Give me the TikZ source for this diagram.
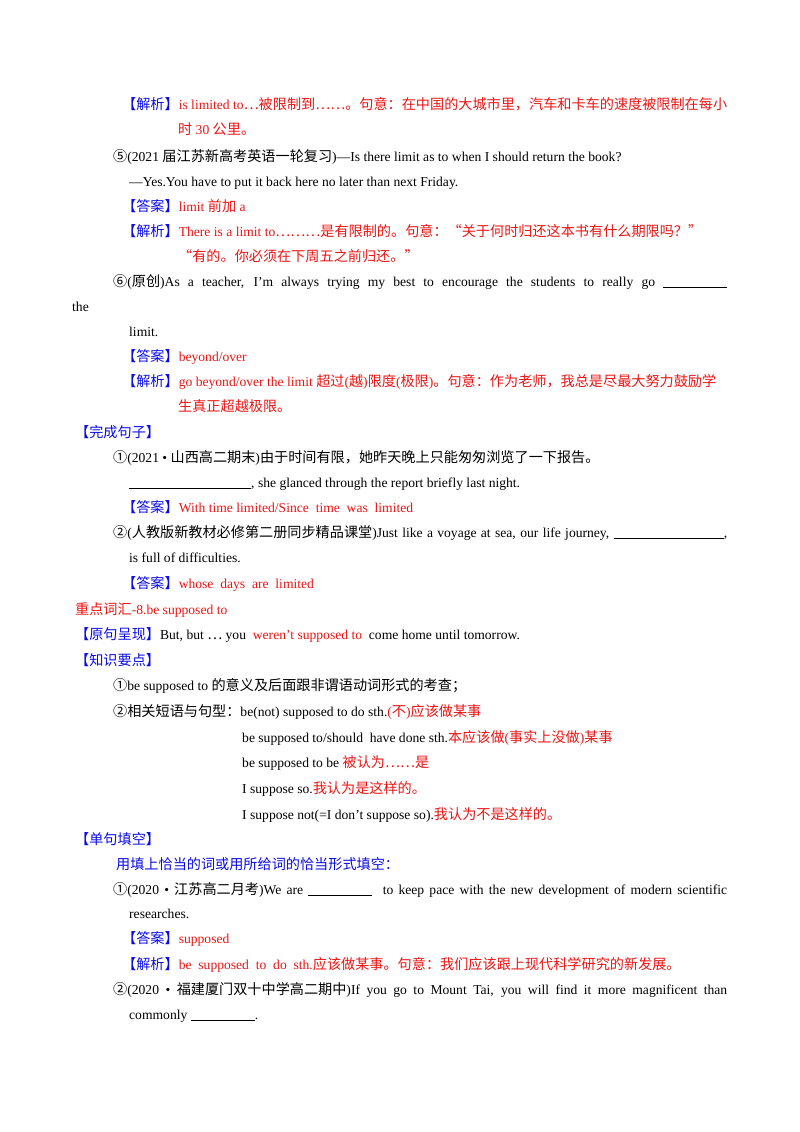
\documentclass[tikz,border=0pt]{standalone}
\usepackage{fontspec}
\setmainfont{Liberation Serif}
\newfontfamily\cjk{Noto Sans CJK SC}[Scale=1.04]
\XeTeXinterchartokenstate=1
\newXeTeXintercharclass\CJKc
\makeatletter
\def\setcls#1#2{\count255=#1 \loop\XeTeXcharclass\count255=\CJKc \advance\count255 by 1 \ifnum\count255<#2 \repeat}
\setcls{"4E00}{"A000}
\setcls{"3000}{"3040}
\setcls{"FF00}{"FFF0}
\setcls{"2460}{"2500}
\XeTeXcharclass"2026=\CJKc
\XeTeXcharclass"201C=\CJKc
\XeTeXcharclass"201D=\CJKc
\makeatother
\XeTeXinterchartoks 0 \CJKc = {\begingroup\cjk}
\XeTeXinterchartoks 4095 \CJKc = {\begingroup\cjk}
\XeTeXinterchartoks \CJKc 0 = {\endgroup}
\XeTeXinterchartoks \CJKc 4095 = {\endgroup}
\definecolor{rd}{RGB}{235,20,20}
\definecolor{bl}{RGB}{10,10,230}
\newcommand\lab[1]{\textcolor{bl}{【#1】}}
\newcommand\rt[1]{\textcolor{rd}{#1}}
\newcommand\blank[1]{\rule[-1.5pt]{#1pt}{0.5pt}}
\newcommand\jl[1]{\makebox[614pt][s]{#1}}
\begin{document}
\begin{tikzpicture}[x=1pt,y=-1pt,t/.style={anchor=base west,inner sep=0pt,font=\fontsize{13.6}{15}\selectfont}]
\useasboundingbox (0,0) rectangle (800,1132);
\node[t] (l1) at (122,109) {\lab{解析}\rt{is limited to…被限制到……。句意：在中国的大城市里，汽车和卡车的速度被限制在每小}};
\node[t] (l2) at (178,134) {\rt{时 30 公里。}};
\node[t] (l3) at (113,161) {⑤(2021 届江苏新高考英语一轮复习)—Is there limit as to when I should return the book?};
\node[t] (l4) at (129,186) {—Yes.You have to put it back here no later than next Friday.};
\node[t] (l5) at (122,211) {\lab{答案}\rt{limit 前加 a}};
\node[t] (l6) at (122,236) {\lab{解析}\rt{There is a limit to………是有限制的。句意：“关于何时归还这本书有什么期限吗？”}};
\node[t] (l7) at (178,261) {\rt{“有的。你必须在下周五之前归还。”}};
\node[t] (l8) at (113,286) {\jl{⑥(原创)As a teacher, I'm always trying my best to encourage the students to really go \blank{64}}};
\node[t] (l9) at (72,311) {the};
\node[t] (l10) at (129,336) {limit.};
\node[t] (l11) at (122,361) {\lab{答案}\rt{beyond/over}};
\node[t] (l12) at (122,386) {\lab{解析}\rt{go beyond/over the limit 超过(越)限度(极限)。句意：作为老师，我总是尽最大努力鼓励学}};
\node[t] (l13) at (178,411) {\rt{生真正超越极限。}};
\node[t] (l14) at (75,437) {\lab{完成句子}};
\node[t] (l15) at (113,462) {①(2021 • 山西高二期末)由于时间有限，她昨天晚上只能匆匆浏览了一下报告。};
\node[t] (l16) at (129,487) {\blank{122}, she glanced through the report briefly last night.};
\node[t] (l17) at (122,512) {\lab{答案}\rt{With time limited/Since\ \ time\ \ was\ \ limited}};
\node[t] (l18) at (113,537) {\jl{②(人教版新教材必修第二册同步精品课堂)Just like a voyage at sea, our life journey, \blank{110},}};
\node[t] (l19) at (129,562) {is full of difficulties.};
\node[t] (l20) at (122,588) {\lab{答案}\rt{whose\ \ days\ \ are\ \ limited}};
\node[t] (l21) at (75,614) {\rt{重点词汇-8.be supposed to}};
\node[t] (l22) at (75,639) {\lab{原句呈现}But, but … you \ \rt{weren't supposed to}\ \ come home until tomorrow.};
\node[t] (l23) at (75,665) {\lab{知识要点}};
\node[t] (l24) at (113,690) {①be supposed to 的意义及后面跟非谓语动词形式的考查；};
\node[t] (l25) at (113,716) {②相关短语与句型：be(not) supposed to do sth.\rt{(不)应该做某事}};
\node[t] (l26) at (242,742) {be supposed to/should\ \ have done sth.\rt{本应该做(事实上没做)某事}};
\node[t] (l27) at (242,767) {be supposed to be \rt{被认为……是}};
\node[t] (l28) at (242,793) {I suppose so.\rt{我认为是这样的。}};
\node[t] (l29) at (242,819) {I suppose not(=I don't suppose so).\rt{我认为不是这样的。}};
\node[t] (l30) at (75,844) {\lab{单句填空}};
\node[t] (l31) at (116,869) {\textcolor{bl}{用填上恰当的词或用所给词的恰当形式填空：}};
\node[t] (l32) at (113,894) {\jl{①(2020 • 江苏高二月考)We are \blank{64}\ \ to keep pace with the new development of modern scientific}};
\node[t] (l33) at (129,918) {researches.};
\node[t] (l34) at (122,943) {\lab{答案}\rt{supposed}};
\node[t] (l35) at (122,969) {\lab{解析}\rt{be\ \ supposed\ \ to\ \ do\ \ sth.应该做某事。句意：我们应该跟上现代科学研究的新发展。}};
\node[t] (l36) at (113,994) {\jl{②(2020 • 福建厦门双十中学高二期中)If you go to Mount Tai, you will find it more magnificent than}};
\node[t] (l37) at (129,1019) {commonly \blank{64}.};
\end{tikzpicture}
\end{document}
